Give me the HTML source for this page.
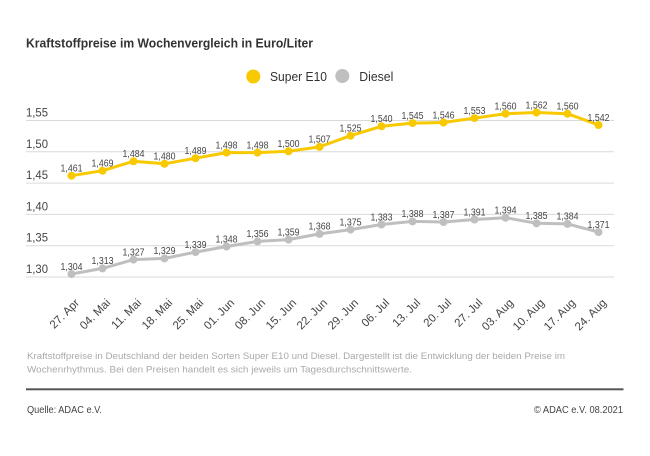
<!DOCTYPE html>
<html>
<head>
<meta charset="utf-8">
<style>
  html, body { margin:0; padding:0; background:#fff; }
  body { width:650px; height:456px; overflow:hidden; }
  svg { display:block; }
  text { font-family: "Liberation Sans", "DejaVu Sans", sans-serif; }
</style>
</head>
<body>
<svg width="650" height="456" viewBox="0 0 650 456" xmlns="http://www.w3.org/2000/svg">
  <rect width="650" height="456" fill="#fff"/>

  <!-- Title -->
  <text x="26" y="47.5" font-size="13" font-weight="bold" fill="#333" textLength="287" lengthAdjust="spacingAndGlyphs">Kraftstoffpreise im Wochenvergleich in Euro/Liter</text>

  <!-- Legend -->
  <circle cx="253.3" cy="76.5" r="7" fill="#f9c900"/>
  <text x="270" y="81" font-size="13" fill="#333" textLength="57" lengthAdjust="spacingAndGlyphs">Super E10</text>
  <circle cx="342.3" cy="76" r="7" fill="#bfbfbf"/>
  <text x="359.3" y="81" font-size="13" fill="#333" textLength="34" lengthAdjust="spacingAndGlyphs">Diesel</text>

  <!-- Gridlines -->
  <g stroke="#dadada" stroke-width="1">
    <line x1="26" y1="120.5" x2="614" y2="120.5"/>
    <line x1="26" y1="151.8" x2="614" y2="151.8"/>
    <line x1="26" y1="183.1" x2="614" y2="183.1"/>
    <line x1="26" y1="214.4" x2="614" y2="214.4"/>
    <line x1="26" y1="245.7" x2="614" y2="245.7"/>
    <line x1="26" y1="277" x2="614" y2="277"/>
  </g>

  <!-- Y labels -->
  <g font-size="11.5" fill="#444">
    <text x="26" y="116.5" textLength="22" lengthAdjust="spacingAndGlyphs">1,55</text>
    <text x="26" y="147.8" textLength="22" lengthAdjust="spacingAndGlyphs">1,50</text>
    <text x="26" y="179.1" textLength="22" lengthAdjust="spacingAndGlyphs">1,45</text>
    <text x="26" y="210.4" textLength="22" lengthAdjust="spacingAndGlyphs">1,40</text>
    <text x="26" y="241.7" textLength="22" lengthAdjust="spacingAndGlyphs">1,35</text>
    <text x="26" y="273" textLength="22" lengthAdjust="spacingAndGlyphs">1,30</text>
  </g>

  <!-- Super E10 line -->
  <polyline fill="none" stroke="#f9c900" stroke-width="3" stroke-linejoin="round"
    points="71.5,175.7 102.5,170.7 133.5,161.3 164.5,163.8 195.5,158.2 226.5,152.6 257.5,152.6 288.5,151.3 319.5,146.9 350.5,135.7 381.5,126.3 412.5,123.1 443.5,122.5 474.5,118.1 505.5,113.7 536.5,112.5 567.5,113.7 598.5,125.0"/>
  <g fill="#f9c900">
    <circle cx="71.5" cy="175.7" r="4"/>
    <circle cx="102.5" cy="170.7" r="4"/>
    <circle cx="133.5" cy="161.3" r="4"/>
    <circle cx="164.5" cy="163.8" r="4"/>
    <circle cx="195.5" cy="158.2" r="4"/>
    <circle cx="226.5" cy="152.6" r="4"/>
    <circle cx="257.5" cy="152.6" r="4"/>
    <circle cx="288.5" cy="151.3" r="4"/>
    <circle cx="319.5" cy="146.9" r="4"/>
    <circle cx="350.5" cy="135.7" r="4"/>
    <circle cx="381.5" cy="126.3" r="4"/>
    <circle cx="412.5" cy="123.1" r="4"/>
    <circle cx="443.5" cy="122.5" r="4"/>
    <circle cx="474.5" cy="118.1" r="4"/>
    <circle cx="505.5" cy="113.7" r="4"/>
    <circle cx="536.5" cy="112.5" r="4"/>
    <circle cx="567.5" cy="113.7" r="4"/>
    <circle cx="598.5" cy="125.0" r="4"/>
  </g>

  <!-- Diesel line -->
  <polyline fill="none" stroke="#bfbfbf" stroke-width="3" stroke-linejoin="round"
    points="71.5,274.0 102.5,268.4 133.5,259.6 164.5,258.4 195.5,252.1 226.5,246.5 257.5,241.4 288.5,239.6 319.5,233.9 350.5,229.6 381.5,224.5 412.5,221.4 443.5,222.0 474.5,219.5 505.5,217.7 536.5,223.3 567.5,223.9 598.5,232.1"/>
  <g fill="#bfbfbf">
    <circle cx="71.5" cy="274.0" r="4"/>
    <circle cx="102.5" cy="268.4" r="4"/>
    <circle cx="133.5" cy="259.6" r="4"/>
    <circle cx="164.5" cy="258.4" r="4"/>
    <circle cx="195.5" cy="252.1" r="4"/>
    <circle cx="226.5" cy="246.5" r="4"/>
    <circle cx="257.5" cy="241.4" r="4"/>
    <circle cx="288.5" cy="239.6" r="4"/>
    <circle cx="319.5" cy="233.9" r="4"/>
    <circle cx="350.5" cy="229.6" r="4"/>
    <circle cx="381.5" cy="224.5" r="4"/>
    <circle cx="412.5" cy="221.4" r="4"/>
    <circle cx="443.5" cy="222.0" r="4"/>
    <circle cx="474.5" cy="219.5" r="4"/>
    <circle cx="505.5" cy="217.7" r="4"/>
    <circle cx="536.5" cy="223.3" r="4"/>
    <circle cx="567.5" cy="223.9" r="4"/>
    <circle cx="598.5" cy="232.1" r="4"/>
  </g>

  <!-- E10 value labels -->
  <g font-size="10" fill="#444" text-anchor="middle">
    <text x="71.5" y="171.5" textLength="22" lengthAdjust="spacingAndGlyphs">1,461</text>
    <text x="102.5" y="166.5" textLength="22" lengthAdjust="spacingAndGlyphs">1,469</text>
    <text x="133.5" y="157.1" textLength="22" lengthAdjust="spacingAndGlyphs">1,484</text>
    <text x="164.5" y="159.6" textLength="22" lengthAdjust="spacingAndGlyphs">1,480</text>
    <text x="195.5" y="154.0" textLength="22" lengthAdjust="spacingAndGlyphs">1,489</text>
    <text x="226.5" y="148.4" textLength="22" lengthAdjust="spacingAndGlyphs">1,498</text>
    <text x="257.5" y="148.4" textLength="22" lengthAdjust="spacingAndGlyphs">1,498</text>
    <text x="288.5" y="147.1" textLength="22" lengthAdjust="spacingAndGlyphs">1,500</text>
    <text x="319.5" y="142.7" textLength="22" lengthAdjust="spacingAndGlyphs">1,507</text>
    <text x="350.5" y="131.5" textLength="22" lengthAdjust="spacingAndGlyphs">1,525</text>
    <text x="381.5" y="122.1" textLength="22" lengthAdjust="spacingAndGlyphs">1,540</text>
    <text x="412.5" y="118.9" textLength="22" lengthAdjust="spacingAndGlyphs">1,545</text>
    <text x="443.5" y="118.3" textLength="22" lengthAdjust="spacingAndGlyphs">1,546</text>
    <text x="474.5" y="113.9" textLength="22" lengthAdjust="spacingAndGlyphs">1,553</text>
    <text x="505.5" y="109.5" textLength="22" lengthAdjust="spacingAndGlyphs">1,560</text>
    <text x="536.5" y="108.3" textLength="22" lengthAdjust="spacingAndGlyphs">1,562</text>
    <text x="567.5" y="109.5" textLength="22" lengthAdjust="spacingAndGlyphs">1,560</text>
    <text x="598.5" y="120.8" textLength="22" lengthAdjust="spacingAndGlyphs">1,542</text>
  </g>

  <!-- Diesel value labels -->
  <g font-size="10" fill="#444" text-anchor="middle">
    <text x="71.5" y="269.8" textLength="22" lengthAdjust="spacingAndGlyphs">1,304</text>
    <text x="102.5" y="264.2" textLength="22" lengthAdjust="spacingAndGlyphs">1,313</text>
    <text x="133.5" y="255.4" textLength="22" lengthAdjust="spacingAndGlyphs">1,327</text>
    <text x="164.5" y="254.2" textLength="22" lengthAdjust="spacingAndGlyphs">1,329</text>
    <text x="195.5" y="247.9" textLength="22" lengthAdjust="spacingAndGlyphs">1,339</text>
    <text x="226.5" y="242.3" textLength="22" lengthAdjust="spacingAndGlyphs">1,348</text>
    <text x="257.5" y="237.2" textLength="22" lengthAdjust="spacingAndGlyphs">1,356</text>
    <text x="288.5" y="235.4" textLength="22" lengthAdjust="spacingAndGlyphs">1,359</text>
    <text x="319.5" y="229.7" textLength="22" lengthAdjust="spacingAndGlyphs">1,368</text>
    <text x="350.5" y="225.4" textLength="22" lengthAdjust="spacingAndGlyphs">1,375</text>
    <text x="381.5" y="220.3" textLength="22" lengthAdjust="spacingAndGlyphs">1,383</text>
    <text x="412.5" y="217.2" textLength="22" lengthAdjust="spacingAndGlyphs">1,388</text>
    <text x="443.5" y="217.8" textLength="22" lengthAdjust="spacingAndGlyphs">1,387</text>
    <text x="474.5" y="215.3" textLength="22" lengthAdjust="spacingAndGlyphs">1,391</text>
    <text x="505.5" y="213.5" textLength="22" lengthAdjust="spacingAndGlyphs">1,394</text>
    <text x="536.5" y="219.1" textLength="22" lengthAdjust="spacingAndGlyphs">1,385</text>
    <text x="567.5" y="219.7" textLength="22" lengthAdjust="spacingAndGlyphs">1,384</text>
    <text x="598.5" y="227.9" textLength="22" lengthAdjust="spacingAndGlyphs">1,371</text>
  </g>

  <!-- X labels -->
  <g font-size="11.5" fill="#444" text-anchor="end">
    <text transform="translate(80,303.5) rotate(-45)">27. Apr</text>
    <text transform="translate(111,303.5) rotate(-45)">04. Mai</text>
    <text transform="translate(142,303.5) rotate(-45)">11. Mai</text>
    <text transform="translate(173,303.5) rotate(-45)">18. Mai</text>
    <text transform="translate(204,303.5) rotate(-45)">25. Mai</text>
    <text transform="translate(235,303.5) rotate(-45)">01. Jun</text>
    <text transform="translate(266,303.5) rotate(-45)">08. Jun</text>
    <text transform="translate(297,303.5) rotate(-45)">15. Jun</text>
    <text transform="translate(328,303.5) rotate(-45)">22. Jun</text>
    <text transform="translate(359,303.5) rotate(-45)">29. Jun</text>
    <text transform="translate(390,303.5) rotate(-45)">06. Jul</text>
    <text transform="translate(421,303.5) rotate(-45)">13. Jul</text>
    <text transform="translate(452,303.5) rotate(-45)">20. Jul</text>
    <text transform="translate(483,303.5) rotate(-45)">27. Jul</text>
    <text transform="translate(514,303.5) rotate(-45)">03. Aug</text>
    <text transform="translate(545,303.5) rotate(-45)">10. Aug</text>
    <text transform="translate(576,303.5) rotate(-45)">17. Aug</text>
    <text transform="translate(607,303.5) rotate(-45)">24. Aug</text>
  </g>

  <!-- Footnote -->
  <g font-size="9.5" fill="#aaa">
    <text x="27" y="359" textLength="538" lengthAdjust="spacingAndGlyphs">Kraftstoffpreise in Deutschland der beiden Sorten Super E10 und Diesel. Dargestellt ist die Entwicklung der beiden Preise im</text>
    <text x="27" y="372.5" textLength="385" lengthAdjust="spacingAndGlyphs">Wochenrhythmus. Bei den Preisen handelt es sich jeweils um Tagesdurchschnittswerte.</text>
  </g>

  <!-- Rule -->
  <rect x="26" y="388.3" width="597.5" height="2" fill="#555"/>

  <!-- Source -->
  <text x="27" y="412.8" font-size="10" fill="#444" textLength="75" lengthAdjust="spacingAndGlyphs">Quelle: ADAC e.V.</text>
  <text x="623" y="412.8" font-size="10" fill="#444" text-anchor="end" textLength="89" lengthAdjust="spacingAndGlyphs">© ADAC e.V. 08.2021</text>
</svg>
</body>
</html>
